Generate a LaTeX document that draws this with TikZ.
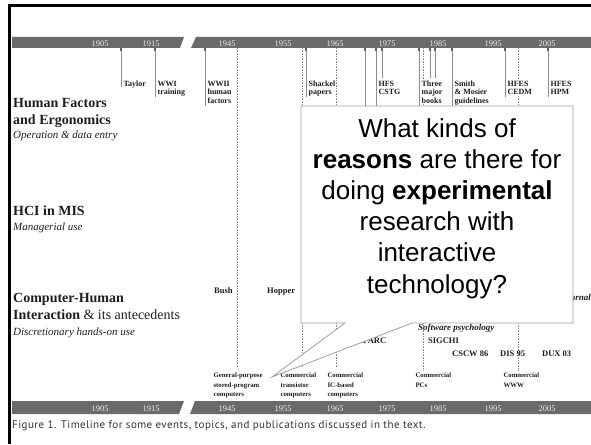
\documentclass[tikz,border=0pt]{standalone}
\usepackage{fontspec}
\setmainfont{Liberation Serif}
\newfontfamily\arialfont{Liberation Sans}
\newfontfamily\capfont[LetterSpace=4]{PT Sans}
\definecolor{barg}{HTML}{6A6A6A}
\definecolor{lineg}{HTML}{8C8C8C}
\definecolor{ink}{HTML}{1E1E1E}
\begin{document}
\begin{tikzpicture}[x=1pt,y=-1pt,
  barpart/.style={fill=barg},
  yearlabel/.style={font=\fontsize{8.5}{9}\selectfont, text=white!92!black, inner sep=0, anchor=base},
  solln/.style={draw=lineg, line width=0.8pt},
  dotln/.style={draw=lineg, line width=0.8pt, dash pattern=on 0.8pt off 0.8pt},
  evt/.style={font=\fontsize{8}{8.8}\selectfont\bfseries, text=ink, align=left, anchor=base west, inner sep=0.4pt, fill=white},
  botlabel/.style={font=\fontsize{6.8}{9.5}\selectfont\bfseries, text=ink, align=left, anchor=base west, inner sep=0.3pt},
  chilabel/.style={font=\fontsize{8.5}{9}\selectfont\bfseries, text=ink, anchor=base west, inner sep=0},
  grouphead/.style={font=\fontsize{14}{16}\selectfont, text=ink, anchor=base west, inner sep=0},
  groupsub/.style={font=\fontsize{11}{13}\selectfont\itshape, text=ink, anchor=base west, inner sep=0},
  frameline/.style={line width=2.6pt, draw=black},
  calloutbox/.style={fill=white, draw=gray!75, line width=0.8pt, line join=miter},
]
\useasboundingbox (0,0) rectangle (591,444);
% frame
\draw[frameline] (9.3,444) -- (9.3,5.5) -- (591,5.5);
% bars
\fill[barpart] (12,37) -- (184,37) -- (180,48) -- (12,48) -- cycle;
\fill[barpart] (196,37) -- (591,37) -- (591,48) -- (191,48) -- cycle;
\fill[barpart] (12,401) -- (184,401) -- (179,414) -- (12,414) -- cycle;
\fill[barpart] (195,401) -- (591,401) -- (591,414) -- (190,414) -- cycle;
\foreach \x/\yy in {100/1905,151/1915,227/1945,283/1955,335/1965,387/1975,438/1985,493/1995,547/2005}{
  \node[yearlabel] (ty\yy) at (\x,46) {\yy};
  \node[yearlabel] (by\yy) at (\x,411) {\yy};
}
% solid event lines
\foreach \x/\ye in {121/87,155/97,205/106,306/97,365/112,376/112,419/108,452/108,505/97,548/97,382/78,430/78,435/78}{
  \coordinate (s\x) at (\x,48);
  \coordinate (e\x) at (\x,\ye);
  \draw[solln] (s\x) -- (e\x);
  \draw[draw=lineg!70!black, line width=1.3pt] (s\x) -- ++(0,3);
}
% dotted connecting lines
\foreach \x/\ye in {237/367,302/367,336/368,423/370,518/370}{
  \coordinate (ds\x) at (\x,48);
  \coordinate (de\x) at (\x,\ye);
  \draw[dotln] (ds\x) -- (de\x);
}
% top event labels (anchor = baseline of last line)
\node[evt] (taylor) at (123,86) {Taylor};
\node[evt] (wwi) at (157,94.8) {WWI\\training};
\node[evt] (wwii) at (207,103.6) {WWII\\human\\factors};
\node[evt] (shackel) at (308,94.8) {Shackel\\papers};
\node[evt] (hfs) at (378,94.8) {HFS\\CSTG};
\node[evt] (three) at (421,103.6) {Three\\major\\books};
\node[evt] (smith) at (454,103.6) {Smith\\\& Mosier\\guidelines};
\node[evt] (cedm) at (507,94.8) {HFES\\CEDM};
\node[evt] (hpm) at (550,94.8) {HFES\\HPM};
% group headings
\node[grouphead] (hf1) at (13,107) {\textbf{Human Factors}};
\node[grouphead] (hf2) at (13,124) {\textbf{and Ergonomics}};
\node[groupsub] (hf3) at (13,138) {Operation \& data entry};
\node[grouphead] (mis1) at (13,215) {\textbf{HCI in MIS}};
\node[groupsub] (mis2) at (13,230) {Managerial use};
\node[grouphead] (chi1) at (13,302) {\textbf{Computer-Human}};
\node[grouphead] (chi2) at (13,319) {\textbf{Interaction} \& its antecedents};
\node[groupsub] (chi3) at (13,335) {Discretionary hands-on use};
% CHI area labels
\node[chilabel] (bush) at (214,293) {Bush};
\node[chilabel] (hopper) at (267,293) {Hopper};
\node[chilabel, font=\fontsize{9}{10}\selectfont\bfseries\itshape, anchor=base east] (jrnl) at (591,300) {Journal};
\node[chilabel, font=\fontsize{9}{10}\selectfont\bfseries\itshape] (softpsy) at (418,330) {Software psychology};
\node[chilabel] (parc) at (363,343) {PARC};
\node[chilabel] (sigchi) at (428,343) {SIGCHI};
\node[chilabel] (cscw) at (452,356) {CSCW 86};
\node[chilabel] (dis) at (500,356) {DIS 95};
\node[chilabel] (dux) at (542,356) {DUX 03};
% bottom labels (anchor = baseline of last line)
\node[botlabel] (gp) at (213,396.7) {General-purpose\\stored-program\\computers};
\node[botlabel] (tr) at (280,396.7) {Commercial\\transistor\\computers};
\node[botlabel] (ic) at (327,396.7) {Commercial\\IC-based\\computers};
\node[botlabel] (pc) at (415,387.2) {Commercial\\PCs};
\node[botlabel] (www) at (503,387.2) {Commercial\\WWW};
% callout
\coordinate (tip) at (272,377);
\draw[calloutbox] (301,106) -- (573,106) -- (573,323) -- (412,323) -- (tip) -- (345,323) -- (301,323) -- cycle;
\node[font=\arialfont\fontsize{26}{31.2}\selectfont, align=center, anchor=base, inner sep=0] (question) at (437,293)
  {What kinds of\\\textbf{reasons} are there for\\doing \textbf{experimental}\\research with\\interactive\\technology?};
% caption
\node[anchor=base west, inner sep=0, font=\capfont\fontsize{11}{13}\selectfont, text=black!80] (caption) at (12,428)
  {Figure 1. Timeline for some events, topics, and publications discussed in the text.};
\end{tikzpicture}
\end{document}
